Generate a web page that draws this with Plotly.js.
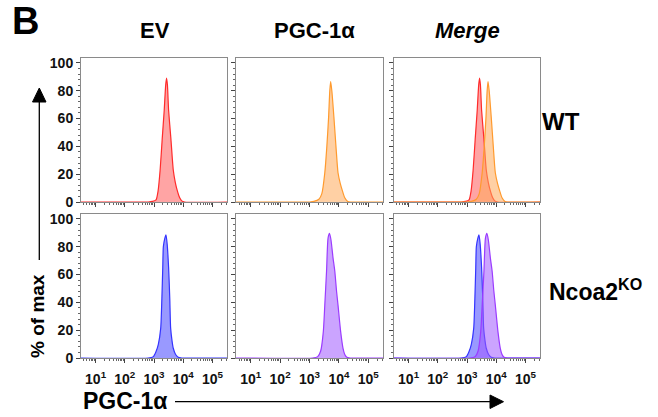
<!DOCTYPE html>
<html><head><meta charset="utf-8">
<script src="https://cdn.plot.ly/plotly-3.0.1.min.js"></script>
<style>html,body{margin:0;padding:0;background:#fff}#chart{width:658px;height:417px}</style>
</head><body><div id="chart"></div>
<script>
// Histogram data: x in log10(fluorescence), y in % of max
const redLog   = [0.5, 2.8, 2.95, 3.07, 3.14, 3.21, 3.28, 3.35, 3.40, 3.43, 3.46, 3.50, 3.58, 3.66, 3.73, 3.80, 3.88, 3.95, 4.05, 5.5];
const redPct   = [0,   0,   0.4,  1.5,  8,    23,   45,   66,   84,   89,   84,   66,   45,   23,   14,   8,    3,    0.8,  0,    0];
const orangeLog = [0.5, 3.0, 3.15, 3.32, 3.42, 3.52, 3.59, 3.65, 3.69, 3.72, 3.76, 3.83, 3.90, 3.97, 4.05, 4.12, 4.20, 4.29, 4.40, 5.5];
const orangePct = [0,   0,   0.4,  2,    6,    21,   40,   61,   80,   86.5, 80,   61,   40,   21,   13,   8,    3,    0.6,  0,    0];
const blueLog  = [0.5, 2.8, 2.98, 3.07, 3.15, 3.23, 3.27, 3.30, 3.32, 3.37, 3.41, 3.45, 3.50, 3.54, 3.57, 3.62, 3.66, 3.74, 3.83, 3.95, 5.5];
const bluePct  = [0,   0,   1,    4.6,  10,   21.5, 43,   65,   80,   86,   88.6, 82,   65,   43,   21.5, 12,   7,    2.5,  0.5,  0,    0];
const purpleLog = [0.5, 3.1, 3.28, 3.38, 3.47, 3.52, 3.58, 3.63, 3.68, 3.73, 3.80, 3.86, 3.92, 3.97, 4.06, 4.14, 4.20, 4.27, 4.38, 5.5];
const purplePct = [0,   0,   1,    5,    19,   38,   62.5, 86,   89.6, 85,   72,   62.5, 48,   38,   19,   7,    2.5,  0.5,  0,    0];

const yTicks = [0, 20, 40, 60, 80, 100];
const xTickExp = [1, 2, 3, 4, 5];
const colTitles = ['EV', 'PGC-1α', '<i>Merge</i>'];

const FONT = 'Arial, "Liberation Sans", sans-serif';
const W = 658, H = 417;
const cols = [[81, 227], [236, 383], [394, 540]];
const rows = [[58, 202], [214, 358]];

const styles = {
  red:    {line: '#ff2b2b', fill: 'rgba(255,90,90,0.55)'},
  orange: {line: '#ff9a2e', fill: 'rgba(255,170,90,0.55)'},
  blue:   {line: '#3434ff', fill: 'rgba(70,70,255,0.55)'},
  purple: {line: '#9b3cff', fill: 'rgba(160,90,255,0.55)'}
};
const series = {
  red: [redLog, redPct], orange: [orangeLog, orangePct],
  blue: [blueLog, bluePct], purple: [purpleLog, purplePct]
};
function tr(name, ax) {
  const s = series[name];
  return {
    x: s[0].map(v => Math.pow(10, v)), y: s[1], xaxis: 'x' + ax, yaxis: 'y' + ax,
    type: 'scatter', mode: 'lines', line: {color: styles[name].line, width: 1.2, shape: 'spline', smoothing: 0.6},
    fill: 'tozeroy', fillcolor: styles[name].fill, hoverinfo: 'skip', showlegend: false
  };
}
const panels = [['red'], ['orange'], ['red', 'orange'], ['blue'], ['purple'], ['blue', 'purple']];
const data = [];
panels.forEach((p, i) => p.forEach(n => data.push(tr(n, i === 0 ? '' : (i + 1)))));

const minorX = [];
for (let e = 0; e <= 5; e++) for (let m = 2; m <= 9; m++) minorX.push(m * Math.pow(10, e));

const layout = {
  width: W, height: H, margin: {l: 0, r: 0, t: 0, b: 0},
  paper_bgcolor: '#fff', plot_bgcolor: '#fff', showlegend: false,
  font: {family: FONT, color: '#111'},
  annotations: [], shapes: []
};
for (let r = 0; r < 2; r++) for (let c = 0; c < 3; c++) {
  const i = r * 3 + c, suf = i === 0 ? '' : (i + 1);
  layout['xaxis' + suf] = {
    type: 'log', range: [0.5, 5.5], domain: [cols[c][0] / W, cols[c][1] / W],
    anchor: 'y' + suf, showline: true, mirror: true, linecolor: '#8a8a8a', linewidth: 1,
    showgrid: false, zeroline: false, fixedrange: true,
    tickmode: 'array', tickvals: xTickExp.map(e => Math.pow(10, e)),
    ticktext: xTickExp.map(e => '10<sup>' + e + '</sup>'),
    showticklabels: r === 1,
    ticks: 'outside', ticklen: 4, tickcolor: '#444', tickwidth: 1,
    ticklabelstandoff: 4,
    tickfont: {family: FONT, size: 14, weight: 'bold', color: '#111'},
    minor: {tickmode: 'array', tickvals: minorX, ticks: 'outside', ticklen: 2, tickcolor: '#666', showgrid: false}
  };
  layout['yaxis' + suf] = {
    range: [0, 103.5], domain: [1 - rows[r][1] / H, 1 - rows[r][0] / H],
    anchor: 'x' + suf, showline: true, mirror: true, linecolor: '#8a8a8a', linewidth: 1,
    showgrid: false, zeroline: false, fixedrange: true,
    tickmode: 'array', tickvals: yTicks, ticktext: yTicks.map(String),
    showticklabels: c === 0,
    ticks: 'outside', ticklen: 4, tickcolor: '#444', tickwidth: 1,
    tickfont: {family: FONT, size: 14, weight: 'bold', color: '#111'},
    minor: {dtick: 4, ticks: 'outside', ticklen: 2, tickcolor: '#666', showgrid: false}
  };
}
function ann(text, x, y, size, extra) {
  layout.annotations.push(Object.assign({
    text: text, x: x / W, y: 1 - y / H, xref: 'paper', yref: 'paper',
    xanchor: 'center', yanchor: 'middle', showarrow: false,
    font: {family: FONT, size: size, weight: 'bold', color: '#000'}
  }, extra || {}));
}
ann('B', 25, 21, 38);
const titleX = [155, 314, 467];
colTitles.forEach((t, i) => ann(t, titleX[i], 30, 22));
ann('WT', 561, 122, 24);
ann('Ncoa2<sup>KO</sup>', 595, 290, 23);
ann('% of max', 37, 316, 19, {textangle: -90});
ann('PGC-1α', 124.5, 401, 23);

// axis arrows
function px(x) { return x / W; }
function py(y) { return 1 - y / H; }
layout.shapes.push({type: 'line', xref: 'paper', yref: 'paper', x0: px(39.3), x1: px(39.3), y0: py(260), y1: py(100), line: {color: '#000', width: 1.3}});
layout.shapes.push({type: 'path', xref: 'paper', yref: 'paper',
  path: `M ${px(32.5)} ${py(102)} L ${px(46)} ${py(102)} L ${px(39.3)} ${py(88)} Z`, fillcolor: '#000', line: {color: '#000', width: 1}});
layout.shapes.push({type: 'line', xref: 'paper', yref: 'paper', x0: px(175), x1: px(491), y0: py(401.7), y1: py(401.7), line: {color: '#000', width: 1.3}});
layout.shapes.push({type: 'path', xref: 'paper', yref: 'paper',
  path: `M ${px(490)} ${py(395)} L ${px(490)} ${py(408.5)} L ${px(503.5)} ${py(401.7)} Z`, fillcolor: '#000', line: {color: '#000', width: 1}});

Plotly.newPlot('chart', data, layout, {staticPlot: true, displayModeBar: false});
</script></body></html>
